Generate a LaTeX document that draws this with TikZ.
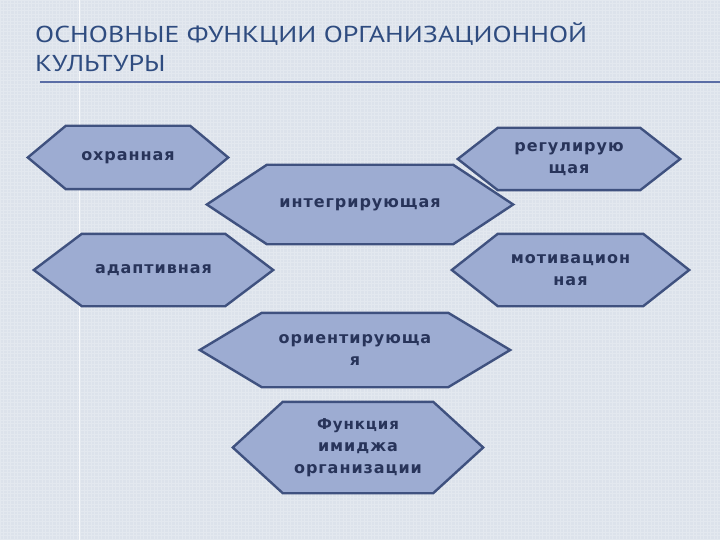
\documentclass[tikz,border=0pt]{standalone}
\usepackage{fontspec}
\usepackage{graphicx}
\setmainfont{DejaVu Sans}
\newfontfamily\titlefont{PT Sans}
\newfontfamily\hexfont{DejaVu Sans}[LetterSpace=6]
\definecolor{slidebg}{HTML}{DCE2EB}
\definecolor{titleblue}{HTML}{2F4C80}
\definecolor{ruleblue}{HTML}{5A6DA6}
\definecolor{hexfill}{HTML}{9DACD2}
\definecolor{hexborder}{HTML}{3F517F}
\definecolor{hextext}{HTML}{28345A}
\pgfdeclarelayer{slide}
\pgfdeclarelayer{hexlayer}
\pgfsetlayers{slide,hexlayer,main}
\tikzset{
  hexlabel/.style={inner sep=0pt, align=center, text=hextext,
    font=\hexfont\bfseries\fontsize{16}{22}\selectfont},
  hexshape/.style={fill=hexfill, draw=hexborder, line width=2.4pt, line join=miter},
  titletext/.style={inner sep=0pt, anchor=base west, text=titleblue,
    font=\titlefont\fontsize{23}{28}\selectfont},
}
\newsavebox\titlebox
\sbox\titlebox{\titlefont\fontsize{23}{28}\selectfont ОСНОВНЫЕ ФУНКЦИИ ОРГАНИЗАЦИОННОЙ}
% name, center, inner width, height, indent, text
\newcommand\hexnode[6]{%
  \node[hexlabel, minimum width=#3pt, minimum height=#4pt] (#1) at #2 {#6};
  \begin{pgfonlayer}{hexlayer}
    \draw[hexshape] (#1.north west) -- (#1.north east) -- ([xshift=#5pt]#1.east)
      -- (#1.south east) -- (#1.south west) -- ([xshift=-#5pt]#1.west) -- cycle;
  \end{pgfonlayer}}
\begin{document}
\begin{tikzpicture}[x=1pt, y=-1pt]
\useasboundingbox (0,0) rectangle (720,540);
\pgfmathsetmacro\tfac{552/\wd\titlebox}
\begin{pgfonlayer}{slide}
  \fill[slidebg] (0,0) rectangle (720,540);
  \draw[white, opacity=0.22, line width=0.6pt, step=3.5pt] (0,0) grid (720,540);
  \draw[white, opacity=0.8, line width=1.2pt] (79.5,0) -- (79.5,540);
\end{pgfonlayer}
% title
\node[titletext] (t1) at (35,43) {\scalebox{\tfac}[1]{ОСНОВНЫЕ ФУНКЦИИ ОРГАНИЗАЦИОННОЙ}};
\node[titletext] (t2) at (35,72) {\scalebox{\tfac}[1]{КУЛЬТУРЫ}};
\coordinate (r1) at (40,82);
\coordinate (r2) at (720,82);
\draw[ruleblue, line width=2.4pt] (r1) -- (r2);
% hexagons
\hexnode{ohr}{(128,157.5)}{124}{63}{38}{охранная}
\hexnode{reg}{(569,159)}{142}{62}{40}{регулирую\\щая}
\hexnode{int}{(360,204.5)}{186}{79}{60}{интегрирующая}
\hexnode{ada}{(153.5,270)}{143}{72}{48}{адаптивная}
\hexnode{mot}{(570.5,270)}{145}{72}{46}{мотивацион\\ная}
\hexnode{ori}{(355,350)}{186}{74}{62}{ориентирующа\\я}
\hexnode{img}{(358,447.5)}{150}{91}{50}{\fontsize{15}{22.5}\selectfont Функция\\имиджа\\организации}
\end{tikzpicture}
\end{document}
